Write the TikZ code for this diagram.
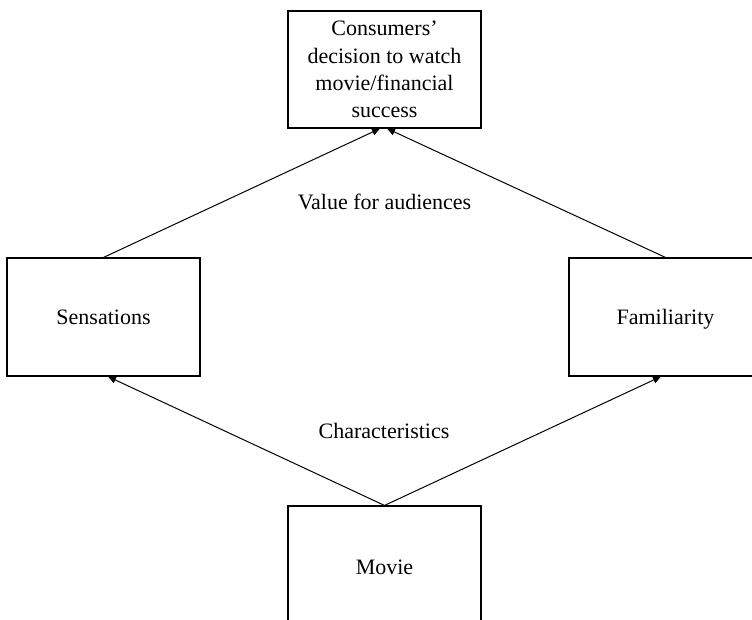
\documentclass[tikz,border=0pt]{standalone}
\usepackage{fontspec}
\setmainfont{Liberation Serif}
\usetikzlibrary{arrows.meta,calc}
\begin{document}
\begin{tikzpicture}[x=0.5pt,y=-0.5pt,
  box/.style={draw, line width=0.55pt, minimum width=96.5pt, inner sep=0pt, align=center, font=\fontsize{11}{13.6}\selectfont},
  oneline/.style={text height=9pt, text depth=1.9pt},
  lbl/.style={inner sep=0pt, oneline, font=\fontsize{11}{13.6}\selectfont},
  arr/.style={line width=0.5pt, -{Triangle[length=4pt,width=3.5pt]}}]
\useasboundingbox (0,0) rectangle (752,620);
\clip (0,0) rectangle (752,620);
\node[box, minimum height=58.5pt] (top) at (384.5,69.5) {Consumers’\\decision to watch\\movie/financial\\success};
\node[box, oneline, minimum height=59pt] (sens) at (103.5,317) {Sensations};
\node[box, oneline, minimum height=59pt] (fam) at (665.5,317) {Familiarity};
\node[box, oneline, minimum height=61pt] (movie) at (384.5,567) {Movie};
\node[lbl] (val) at (384.5,202) {Value for audiences};
\node[lbl] (char) at (384,431) {Characteristics};
\draw[arr] (sens.north) -- ([xshift=-2.25pt]top.south);
\draw[arr] (fam.north) -- ([xshift=1.25pt]top.south);
\draw[arr] (movie.north) -- ([xshift=2.25pt]sens.south);
\draw[arr] (movie.north) -- ([xshift=-2.25pt]fam.south);
\end{tikzpicture}
\end{document}
